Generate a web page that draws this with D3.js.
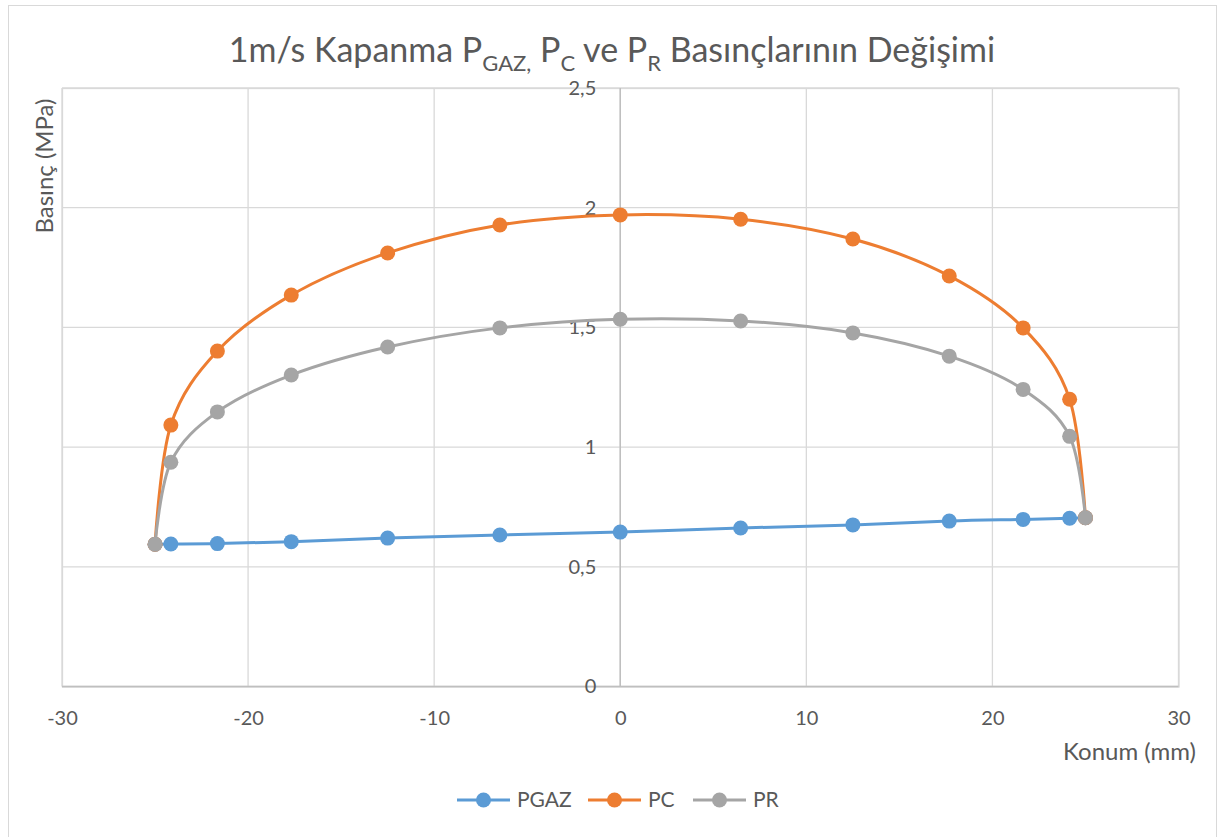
<!DOCTYPE html>
<html>
<head>
<meta charset="utf-8">
<script src="https://cdn.jsdelivr.net/npm/d3@7"></script>
<style>
  html, body { margin: 0; padding: 0; background: #fff; }
  svg { display: block; font-family: Lato, "Open Sans", sans-serif; }
</style>
</head>
<body>
<svg id="chart" width="1228" height="837"></svg>
<script>
// Piston position (mm) and pressures (MPa)
const positions = [-25, -24.15, -21.65, -17.68, -12.5, -6.47, 0, 6.47, 12.5, 17.68, 21.65, 24.15, 25];
const pGaz = [0.594, 0.595, 0.597, 0.605, 0.620, 0.633, 0.645, 0.662, 0.675, 0.691, 0.698, 0.703, 0.705];
const pC   = [0.594, 1.092, 1.401, 1.635, 1.811, 1.928, 1.970, 1.952, 1.869, 1.715, 1.498, 1.200, 0.705];
const pR   = [0.594, 0.937, 1.147, 1.301, 1.418, 1.498, 1.534, 1.527, 1.477, 1.380, 1.241, 1.045, 0.705];

const seriesNames = ["PGAZ", "PC", "PR"];
const seriesValues = [pGaz, pC, pR];
const seriesColors = ["#5B9BD5", "#ED7D31", "#A5A5A5"];

const xTicks = [-30, -20, -10, 0, 10, 20, 30];
const yTicks = [0, 0.5, 1, 1.5, 2, 2.5];

const svg = d3.select("#chart");
const plot = { left: 62, right: 1178.5, top: 88, bottom: 686.5 };

const x = d3.scaleLinear().domain([-30, 30]).range([plot.left, plot.right]);
const y = d3.scaleLinear().domain([0, 2.5]).range([plot.bottom, plot.top]);
const fmt = d => String(d).replace(".", ",");

// Chart frame
svg.append("rect")
  .attr("x", 8.5).attr("y", 5.5).attr("width", 1208).attr("height", 840)
  .attr("fill", "#fff").attr("stroke", "#d9d9d9").attr("stroke-width", 1);

// Plot area border
svg.append("rect")
  .attr("x", plot.left + 0.5).attr("y", plot.top + 0.5)
  .attr("width", plot.right - plot.left).attr("height", plot.bottom - plot.top)
  .attr("fill", "none").attr("stroke", "#d9d9d9").attr("stroke-width", 1.3);

// Gridlines
const grid = svg.append("g").attr("stroke", "#d9d9d9").attr("stroke-width", 1.3);
grid.selectAll("line.v").data(xTicks).join("line")
  .attr("x1", d => x(d)).attr("x2", d => x(d))
  .attr("y1", plot.top).attr("y2", plot.bottom);
grid.selectAll("line.h").data(yTicks).join("line")
  .attr("x1", plot.left).attr("x2", plot.right)
  .attr("y1", d => y(d)).attr("y2", d => y(d));

// Axis lines (vertical axis crosses at x = 0)
svg.append("line")
  .attr("x1", x(0)).attr("x2", x(0)).attr("y1", plot.top).attr("y2", plot.bottom)
  .attr("stroke", "#bfbfbf").attr("stroke-width", 1.5);
svg.append("line")
  .attr("x1", plot.left).attr("x2", plot.right).attr("y1", y(0)).attr("y2", y(0))
  .attr("stroke", "#bfbfbf").attr("stroke-width", 1.5);

// Tick labels via d3 axes (no domain/tick lines)
const yAxis = d3.axisLeft(y).tickValues(yTicks).tickFormat(fmt).tickSize(0).tickPadding(24);
const gy = svg.append("g").attr("transform", `translate(${x(0)},0)`).call(yAxis);
const xAxis = d3.axisBottom(x).tickValues(xTicks).tickFormat(d => String(d)).tickSize(0).tickPadding(24);
const gx = svg.append("g").attr("transform", `translate(0,${plot.bottom})`).call(xAxis);
[gx, gy].forEach(g => {
  g.select(".domain").remove();
  g.selectAll("text").attr("fill", "#595959").attr("font-size", 20)
    .attr("font-family", "Lato, 'Open Sans', sans-serif");
});
gx.selectAll("text").attr("dy", "0.35em").attr("y", 31);

// Series lines (smoothed) and markers
const line = d3.line().curve(d3.curveCatmullRom.alpha(0))
  .x(d => x(d[0])).y(d => y(d[1]));

seriesValues.forEach((vals, i) => {
  const pts = positions.map((p, j) => [p, vals[j]]);
  svg.append("path").datum(pts)
    .attr("d", line).attr("fill", "none")
    .attr("stroke", seriesColors[i]).attr("stroke-width", 3)
    .attr("stroke-linejoin", "round").attr("stroke-linecap", "round");
  svg.append("g").selectAll("circle").data(pts).join("circle")
    .attr("cx", d => x(d[0])).attr("cy", d => y(d[1])).attr("r", 7.5)
    .attr("fill", seriesColors[i]);
});

// Title with subscripts
const title = svg.append("text")
  .attr("x", 612).attr("y", 62).attr("text-anchor", "middle")
  .attr("fill", "#595959").attr("font-size", 34);
title.append("tspan").text("1m/s Kapanma P");
title.append("tspan").attr("font-size", 22).attr("dy", 9).text("GAZ,");
title.append("tspan").attr("dy", -9).text(" P");
title.append("tspan").attr("font-size", 22).attr("dy", 9).text("C");
title.append("tspan").attr("dy", -9).text(" ve P");
title.append("tspan").attr("font-size", 22).attr("dy", 9).text("R");
title.append("tspan").attr("dy", -9).text(" Basınçlarının Değişimi");

// Axis titles
svg.append("text")
  .attr("x", 1196).attr("y", 760).attr("text-anchor", "end")
  .attr("fill", "#595959").attr("font-size", 24).text("Konum (mm)");
svg.append("text")
  .attr("transform", "translate(53,166) rotate(-90)").attr("text-anchor", "middle")
  .attr("fill", "#595959").attr("font-size", 24).text("Basınç (MPa)");

// Legend
const legendX = [457, 588, 693];
const legend = svg.append("g");
seriesNames.forEach((name, i) => {
  const g = legend.append("g").attr("transform", `translate(${legendX[i]},800)`);
  g.append("line").attr("x1", 0).attr("x2", 53).attr("y1", 0).attr("y2", 0)
    .attr("stroke", seriesColors[i]).attr("stroke-width", 3);
  g.append("circle").attr("cx", 26.5).attr("cy", 0).attr("r", 7.5).attr("fill", seriesColors[i]);
  g.append("text").attr("x", 60).attr("y", 0).attr("dy", "0.35em")
    .attr("fill", "#595959").attr("font-size", 21).text(name);
});
</script>
</body>
</html>
